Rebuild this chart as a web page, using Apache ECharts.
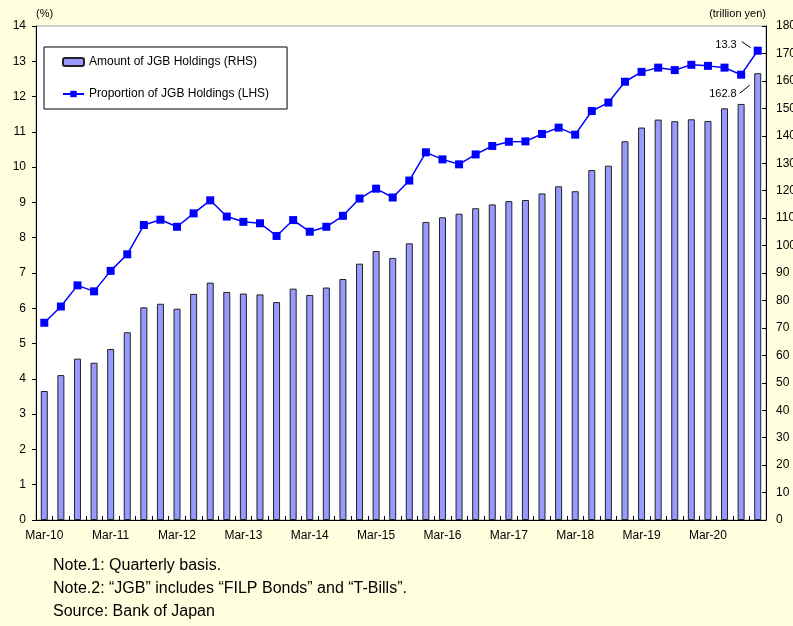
<!DOCTYPE html>
<html>
<head>
<meta charset="utf-8">
<script src="https://cdn.jsdelivr.net/npm/echarts@6/dist/echarts.min.js"></script>
<style>
  html, body { margin: 0; padding: 0; background: #ffffe0; }
  #main { width: 793px; height: 626px; }
</style>
</head>
<body>
<div id="main"></div>
<script>
// quarters Mar-10 .. Dec-20
var quarters = [];
var years = ['10','11','12','13','14','15','16','17','18','19','20'];
var months = ['Mar','Jun','Sep','Dec'];
for (var i = 0; i < years.length; i++) {
    for (var j = 0; j < months.length; j++) {
        quarters.push(months[j] + '-' + years[i]);
    }
}

// amount of JGB holdings, trillion yen (RHS)
var amount = [
    47.0, 52.8, 58.8, 57.3, 62.3, 68.4, 77.5, 78.8, 77.0, 82.4, 86.5,
    83.1, 82.5, 82.2, 79.4, 84.3, 82.0, 84.7, 87.8, 93.4, 98.0, 95.5,
    100.8, 108.6, 110.3, 111.6, 113.6, 115.0, 116.2, 116.6, 119.0, 121.6,
    119.8, 127.5, 129.1, 138.0, 143.0, 145.9, 145.3, 146.0, 145.4, 150.0,
    151.6, 162.8
];

// proportion of JGB holdings, % (LHS)
var proportion = [
    5.59, 6.05, 6.65, 6.48, 7.06, 7.53, 8.36, 8.51, 8.31, 8.69, 9.06,
    8.60, 8.45, 8.41, 8.05, 8.50, 8.17, 8.31, 8.62, 9.11, 9.39, 9.14,
    9.62, 10.42, 10.22, 10.08, 10.36, 10.60, 10.72, 10.73, 10.94, 11.12,
    10.92, 11.59, 11.83, 12.42, 12.70, 12.82, 12.75, 12.90, 12.87, 12.82,
    12.62, 13.3
];

var notes = [
    'Note.1: Quarterly basis.',
    'Note.2: \u201cJGB\u201d includes \u201cFILP Bonds\u201d and \u201cT-Bills\u201d.',
    'Source: Bank of Japan'
];

var font = "'Liberation Sans', Arial, sans-serif";

var mychart = echarts.init(document.getElementById('main'));
var option = {
    backgroundColor: '#ffffe0',
    animation: false,
    textStyle: { fontFamily: font },
    grid: {
        left: 36,
        right: 27,
        top: 26,
        bottom: 106,
        outerBoundsMode: 'none',
        show: true,
        backgroundColor: '#ffffff',
        borderColor: '#a0a0a0',
        borderWidth: 1
    },
    legend: {
        orient: 'vertical',
        left: 44,
        top: 47,
        padding: [9, 18, 9, 18],
        itemGap: 20,
        itemWidth: 21,
        itemHeight: 8,
        borderColor: '#000',
        borderWidth: 1,
        backgroundColor: '#fff',
        textStyle: { fontFamily: font, fontSize: 12, color: '#000' },
        data: ['Amount of JGB Holdings (RHS)', 'Proportion of JGB Holdings (LHS)']
    },
    xAxis: {
        type: 'category',
        data: quarters,
        boundaryGap: true,
        axisLine: { lineStyle: { color: '#000', width: 1 } },
        axisTick: { show: true, inside: true, length: 4, interval: 0, lineStyle: { color: '#000' } },
        axisLabel: { interval: 3, color: '#000', fontSize: 12, margin: 10, fontFamily: font }
    },
    yAxis: [
        {
            type: 'value',
            min: 0,
            max: 14,
            interval: 1,
            name: '(%)',
            nameLocation: 'end',
            nameGap: 7,
            nameTextStyle: { align: 'left', color: '#000', fontSize: 11, fontFamily: font },
            splitLine: { show: false },
            axisLine: { show: true, lineStyle: { color: '#000' } },
            axisTick: { show: true, length: 4, lineStyle: { color: '#000' } },
            axisLabel: { color: '#000', fontSize: 12, margin: 10, fontFamily: font }
        },
        {
            type: 'value',
            min: 0,
            max: 180,
            interval: 10,
            name: '(trillion yen)',
            nameLocation: 'end',
            nameGap: 7,
            nameTextStyle: { align: 'right', color: '#000', fontSize: 11, fontFamily: font },
            splitLine: { show: false },
            axisLine: { show: true, lineStyle: { color: '#000' } },
            axisTick: { show: true, inside: true, length: 4, lineStyle: { color: '#000' } },
            axisLabel: { color: '#000', fontSize: 12, margin: 10, fontFamily: font }
        }
    ],
    series: [
        {
            name: 'Amount of JGB Holdings (RHS)',
            type: 'bar',
            yAxisIndex: 1,
            barWidth: 7,
            data: amount,
            itemStyle: { color: '#9999ff', borderColor: '#222', borderWidth: 1 }
        },
        {
            name: 'Proportion of JGB Holdings (LHS)',
            type: 'line',
            yAxisIndex: 0,
            data: proportion,
            symbol: 'rect',
            symbolSize: 8,
            z: 5,
            lineStyle: { color: '#0000ff', width: 1.5 },
            itemStyle: { color: '#0000ff' }
        }
    ],
    graphic: notes.map(function (t, k) {
        return {
            type: 'text',
            left: 53,
            top: 558 + k * 23,
            style: { text: t, fill: '#000', font: '16px ' + font }
        };
    })
};
mychart.setOption(option);

// value callouts for the last quarter
var last = quarters.length - 1;
var pLine = mychart.convertToPixel({ seriesIndex: 1 }, [last, proportion[last]]);
var pBar = mychart.convertToPixel({ seriesIndex: 0 }, [last, amount[last]]);
var extra = option.graphic.slice();
extra.push({
    type: 'text', x: pLine[0] - 21, y: pLine[1] - 6,
    style: { text: proportion[last].toFixed(1), fill: '#000', font: '11px ' + font, align: 'right', verticalAlign: 'middle' }
});
extra.push({
    type: 'line', shape: { x1: pLine[0] - 16, y1: pLine[1] - 9, x2: pLine[0] - 7, y2: pLine[1] - 3 },
    style: { stroke: '#000', lineWidth: 1 }
});
extra.push({
    type: 'text', x: pBar[0] - 21, y: pBar[1] + 21,
    style: { text: amount[last].toFixed(1), fill: '#000', font: '11px ' + font, align: 'right', verticalAlign: 'middle' }
});
extra.push({
    type: 'line', shape: { x1: pBar[0] - 18, y1: pBar[1] + 20, x2: pBar[0] - 8, y2: pBar[1] + 12 },
    style: { stroke: '#000', lineWidth: 1 }
});
mychart.setOption({ graphic: extra });
</script>
</body>
</html>
